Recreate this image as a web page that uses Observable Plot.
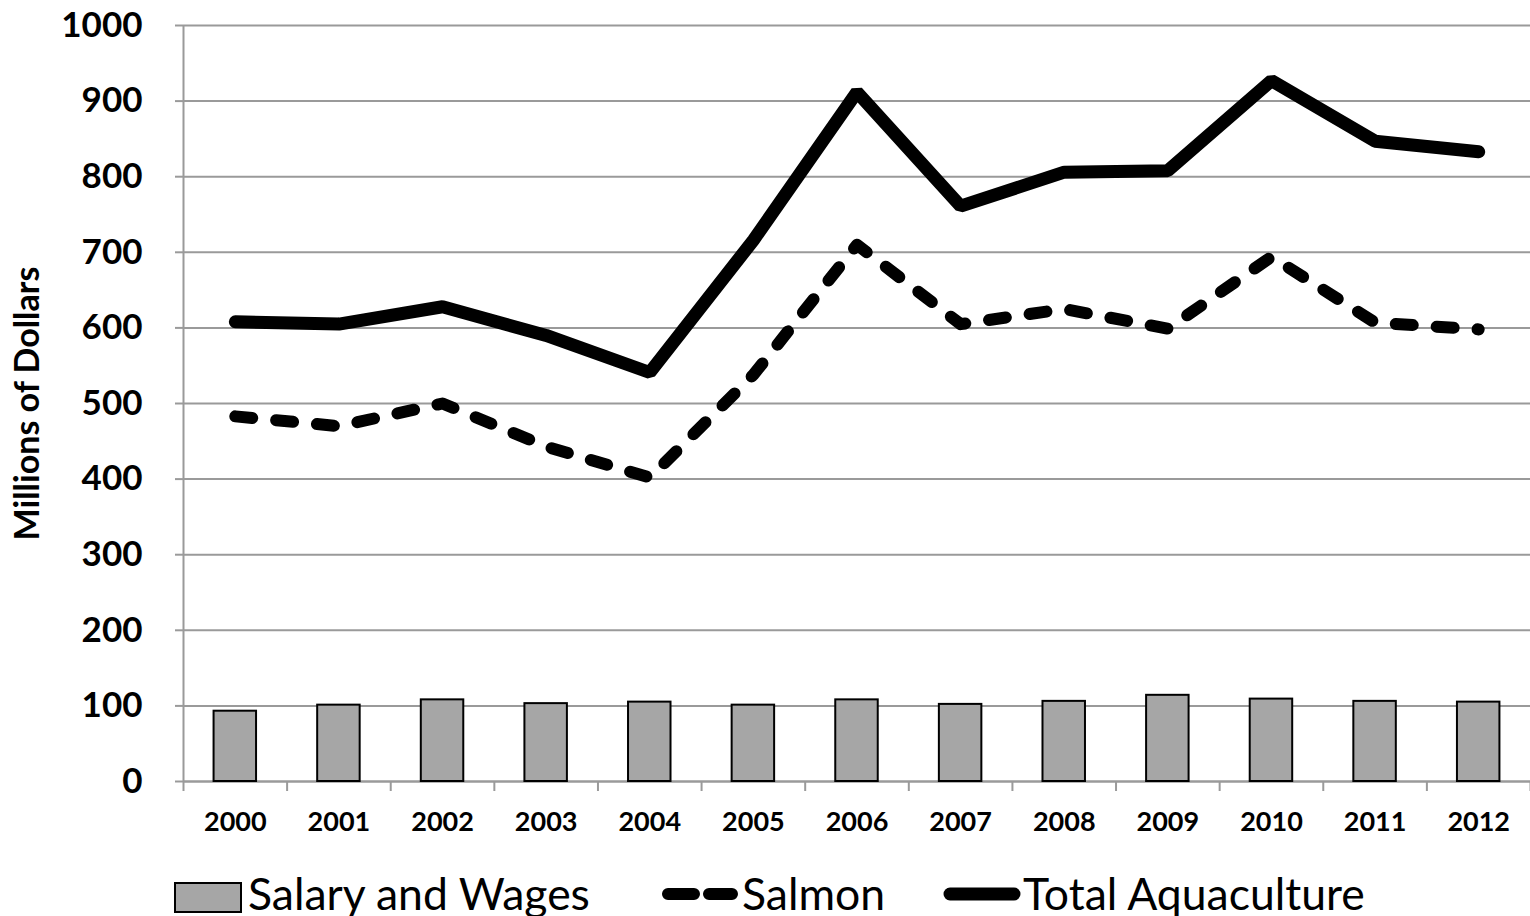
<!DOCTYPE html>
<html>
<head>
<meta charset="utf-8">
<script src="https://cdn.jsdelivr.net/npm/d3@7"></script>
<script src="https://cdn.jsdelivr.net/npm/@observablehq/plot@0.6"></script>
<style>
  html, body { margin: 0; padding: 0; background: #fff; overflow: hidden; }
  #wrap { width: 1530px; height: 916px; position: relative; font-family: Lato, "Open Sans", sans-serif; }
  #legend { position: absolute; left: 0; top: 850px; width: 1530px; height: 66px; }
  #legend .txt { position: absolute; font-family: Lato, sans-serif; font-size: 44.5px; line-height: 50px; top: 18px; color: #000; white-space: nowrap; }
  #legend svg { position: absolute; }
</style>
</head>
<body>
<div id="wrap">
  <div id="chart"></div>
  <div id="legend">
    <svg style="left:174px;top:32px" width="70" height="32"><rect x="1" y="1" width="66" height="29" fill="#a6a6a6" stroke="#000" stroke-width="2"/></svg>
    <span class="txt" style="left:248px">Salary and Wages</span>
    <svg style="left:656px;top:30px" width="90" height="30"><line x1="12" y1="14" x2="76" y2="14" stroke="#000" stroke-width="12" stroke-linecap="round" stroke-dasharray="26,15"/></svg>
    <span class="txt" style="left:742px">Salmon</span>
    <svg style="left:938px;top:30px" width="90" height="30"><line x1="12" y1="14" x2="76" y2="14" stroke="#000" stroke-width="13" stroke-linecap="round"/></svg>
    <span class="txt" style="left:1023px">Total Aquaculture</span>
  </div>
</div>
<script>
const years = [2000, 2001, 2002, 2003, 2004, 2005, 2006, 2007, 2008, 2009, 2010, 2011, 2012];
const salaryWages = [93, 101, 108, 103, 105, 101, 108, 102, 106, 114, 109, 106, 105];
const salmon = [483, 470, 500, 443, 402, 538, 710, 605, 625, 599, 694, 607, 598];
const totalAquaculture = [608, 605, 628, 590, 541, 716, 912, 761, 806, 808, 927, 847, 833];
const yTicks = [0, 100, 200, 300, 400, 500, 600, 700, 800, 900, 1000];
const yLabel = "Millions of Dollars";

const bars = years.map((y, i) => ({year: y, value: salaryWages[i]}));
const salmonData = years.map((y, i) => ({year: y, value: salmon[i]}));
const totalData = years.map((y, i) => ({year: y, value: totalAquaculture[i]}));
const boundaries = years.map(y => y - 0.5).concat([years[years.length - 1] + 0.5]);
const halfBar = 0.205;

const chart = Plot.plot({
  width: 1530,
  height: 850,
  marginTop: 25,
  marginBottom: 69,
  marginLeft: 183,
  marginRight: 0,
  style: {fontFamily: "Lato, sans-serif", background: "#fff", overflow: "visible"},
  x: {type: "linear", domain: [years[0] - 0.5, years[years.length - 1] + 0.5]},
  y: {domain: [0, 1000]},
  marks: [
    Plot.gridY(yTicks, {stroke: "#9a9a9a", strokeOpacity: 1, strokeWidth: 2}),
    Plot.ruleX([years[0] - 0.5], {y1: 0, y2: 1000, stroke: "#9a9a9a", strokeWidth: 2}),
    Plot.ruleY([0], {stroke: "#9a9a9a", strokeWidth: 2}),
    Plot.axisY({ticks: yTicks, tickSize: 8, tickPadding: 33, tickFormat: d => String(d), stroke: "#9a9a9a", fill: "#000", fontSize: 35, fontWeight: "bold", label: null, strokeWidth: 2}),
    Plot.axisX({ticks: boundaries, tickSize: 10, tickFormat: () => "", stroke: "#9a9a9a", strokeWidth: 2, label: null}),
    Plot.axisX({ticks: years, tickSize: 0, tickPadding: 30, tickFormat: d => String(d), fill: "#000", fontSize: 27, fontWeight: "bold", label: null}),
    Plot.rectY(bars, {x1: d => d.year - halfBar, x2: d => d.year + halfBar, y: "value", fill: "#a6a6a6", stroke: "#000", strokeWidth: 2}),
    Plot.line(salmonData, {x: "year", y: "value", stroke: "#000", strokeWidth: 12, strokeLinecap: "round", strokeLinejoin: "round", strokeDasharray: "17,24"}),
    Plot.line(totalData, {x: "year", y: "value", stroke: "#000", strokeWidth: 13, strokeLinecap: "round", strokeLinejoin: "miter"}),
    Plot.text([yLabel], {frameAnchor: "left", textAnchor: "middle", rotate: -90, dx: -155, fontSize: 34, fontWeight: "bold", fill: "#000"})
  ]
});
document.getElementById("chart").appendChild(chart);
</script>
</body>
</html>
